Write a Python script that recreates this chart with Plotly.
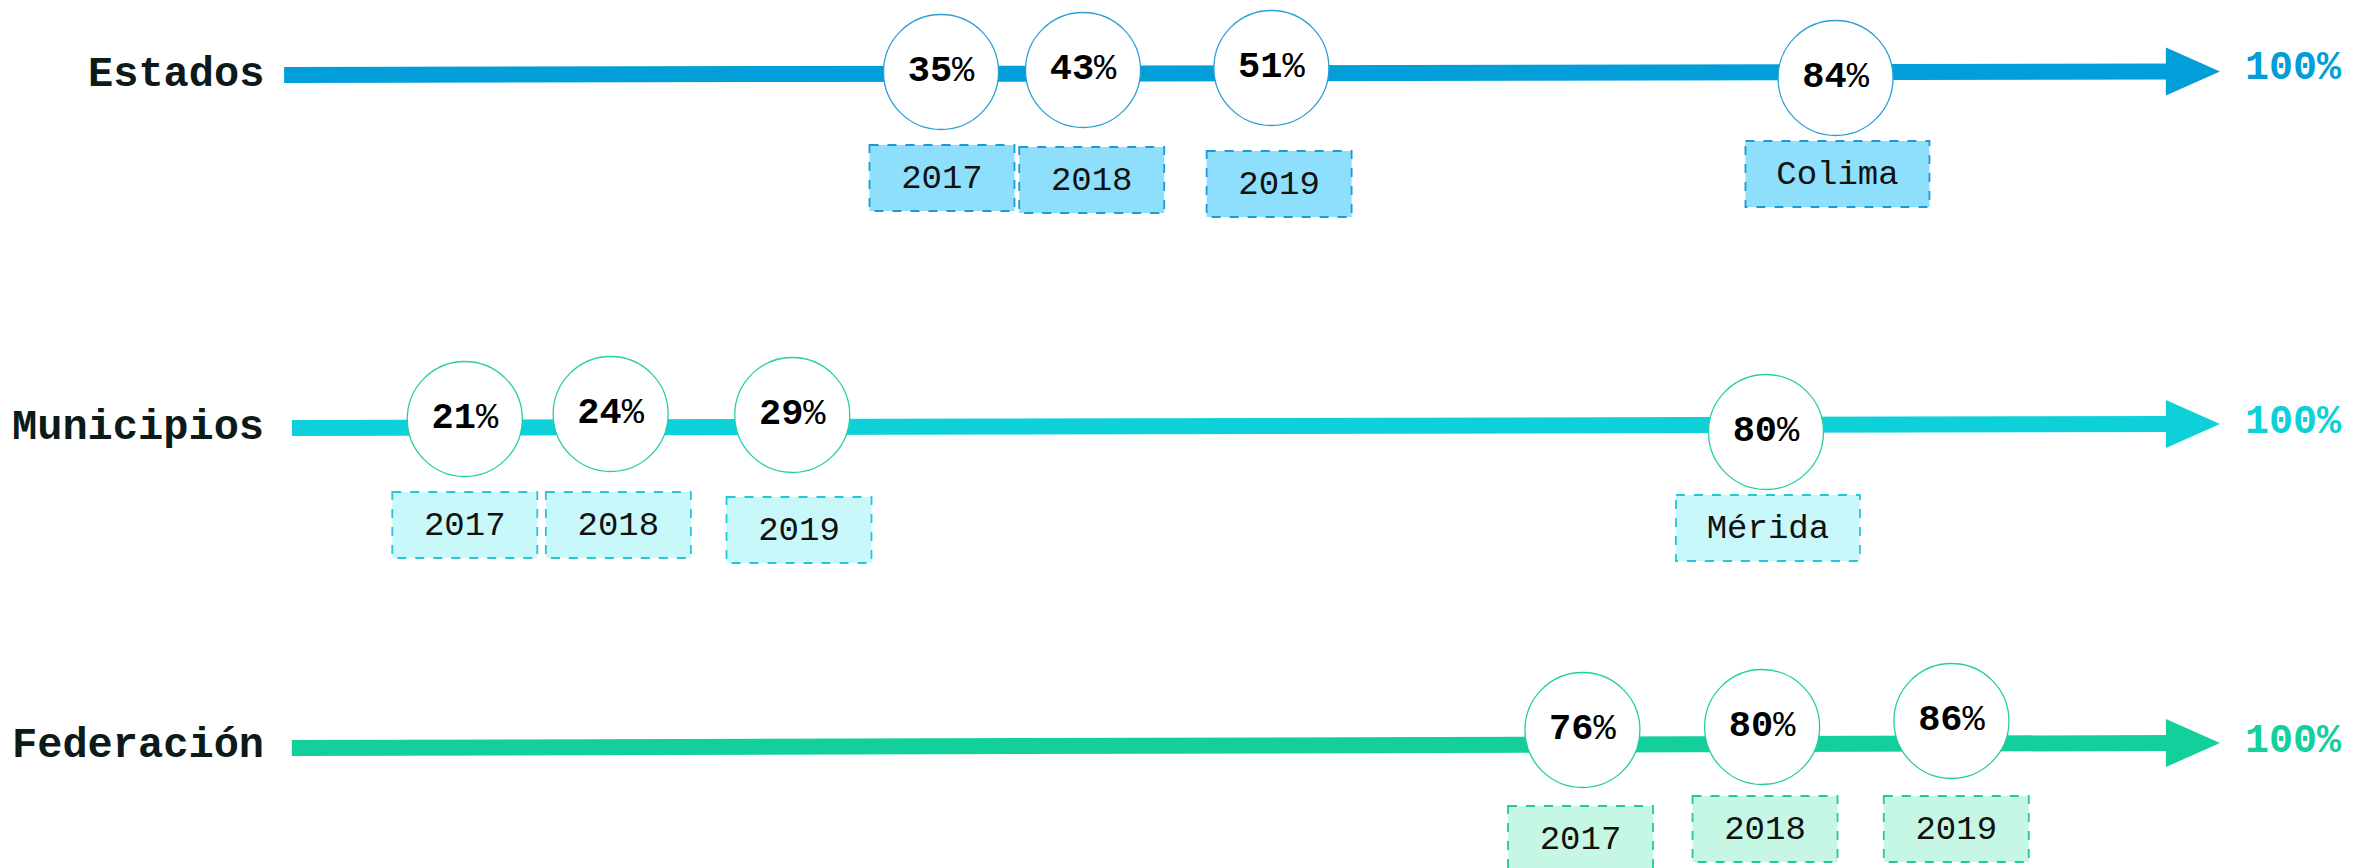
import plotly.graph_objects as go

# ---------------- data ----------------
rows = ["Estados", "Municipios", "Federación"]
estados_vals = [35, 43, 51, 84]
estados_tags = ["2017", "2018", "2019", "Colima"]
municipios_vals = [21, 24, 29, 80]
municipios_tags = ["2017", "2018", "2019", "Mérida"]
federacion_vals = [76, 80, 86]
federacion_tags = ["2017", "2018", "2019"]
goal_label = "100%"

# ---------------- layout (hand placed badges along a 0-100 track) ----------------
W, H = 2354, 868
TRACK_X0 = 288          # px where track unit 0 sits
PX_PER_UNIT = 19.32     # px per track unit (100 = arrow tip)

badge_pos = [[33.8, 41.15, 50.9, 80.1], [9.15, 16.7, 26.1, 76.5], [67.0, 76.3, 86.1]]
badge_y = [[72, 70, 68, 78], [419, 414, 415, 432], [730, 727, 721]]
tag_pos = [[33.85, 41.6, 51.3, 80.2], [9.15, 17.1, 26.45, 76.6], [66.9, 76.45, 86.35]]
tag_top = [[145, 147, 151, 141], [492, 492, 497, 495], [806, 796, 796]]
line_start = [-0.2, 0.2, 0.2]
line_y = [(75, 71.5), (428, 424), (748, 743)]
label_y = [75, 428, 746]
goal_y = [68, 422, 741]

line_col = ["#029ed9", "#0dd0d9", "#13cf9b"]
ring_col = ["#2a9fd6", "#25cf9e", "#22ce9f"]
box_fill = ["#8ddffb", "#c8f8fa", "#c6f7e5"]
box_line = ["#1d9ad6", "#22c8d5", "#22c99a"]

FONT = "Courier New, Liberation Mono, monospace"

all_vals = [estados_vals, municipios_vals, federacion_vals]
all_tags = [estados_tags, municipios_tags, federacion_tags]

u = lambda px: (px - TRACK_X0) / PX_PER_UNIT
du = lambda px: px / PX_PER_UNIT

fig = go.Figure()
shapes = []
annotations = []

for r, name in enumerate(rows):
    yl, yr = line_y[r]
    # track line
    shapes.append(dict(type="line", xref="x", yref="y", x0=line_start[r], x1=97.6, y0=yl, y1=yr,
                       line=dict(color=line_col[r], width=16), layer="below"))
    # arrow head
    xb, xt, yh = 97.2, 100.0, yr
    shapes.append(dict(type="path", xref="x", yref="y",
                       path=f"M {xb},{yh-24} L {xt},{yh} L {xb},{yh+24} Z",
                       fillcolor=line_col[r], line=dict(width=0), layer="below"))
    # tag boxes
    for i, t in enumerate(all_tags[r]):
        wpx = 184 if not t.isdigit() else 145
        c = tag_pos[r][i]
        shapes.append(dict(type="rect", xref="x", yref="y",
                           x0=c - du(wpx) / 2, x1=c + du(wpx) / 2,
                           y0=tag_top[r][i], y1=tag_top[r][i] + 66,
                           fillcolor=box_fill[r],
                           line=dict(color=box_line[r], width=1.8, dash="dash"), layer="below"))
    fig.add_trace(go.Scatter(
        x=tag_pos[r], y=[t + 34 for t in tag_top[r]], mode="text",
        text=all_tags[r], textposition="middle center",
        textfont=dict(family=FONT, size=34, color="#111111"),
        hoverinfo="skip", showlegend=False))
    # badges
    fig.add_trace(go.Scatter(
        x=badge_pos[r], y=badge_y[r], mode="markers+text",
        marker=dict(size=115, color="white", line=dict(color=ring_col[r], width=1.3)),
        text=[f"<b>{v}</b>%" for v in all_vals[r]], textposition="middle center",
        textfont=dict(family=FONT, size=37, color="#000000"),
        hoverinfo="skip", showlegend=False))
    # row label
    annotations.append(dict(x=u(266), y=label_y[r], xref="x", yref="y", text=f"<b>{name}</b>",
                            showarrow=False, xanchor="right", yanchor="middle",
                            font=dict(family=FONT, size=42, color="#0d1a1a")))
    # goal label
    annotations.append(dict(x=u(2243), y=goal_y[r], xref="x", yref="y", text=f"<b>{goal_label}</b>",
                            showarrow=False, xanchor="left", yanchor="middle",
                            font=dict(family=FONT, size=40, color=line_col[r])))

fig.update_layout(
    width=W, height=H, autosize=False,
    margin=dict(l=0, r=0, t=0, b=0),
    paper_bgcolor="white", plot_bgcolor="white",
    shapes=shapes, annotations=annotations,
    xaxis=dict(range=[u(0), u(W)], visible=False, fixedrange=True),
    yaxis=dict(range=[H, 0], visible=False, fixedrange=True),
    showlegend=False,
)

fig.write_html("out.html")
